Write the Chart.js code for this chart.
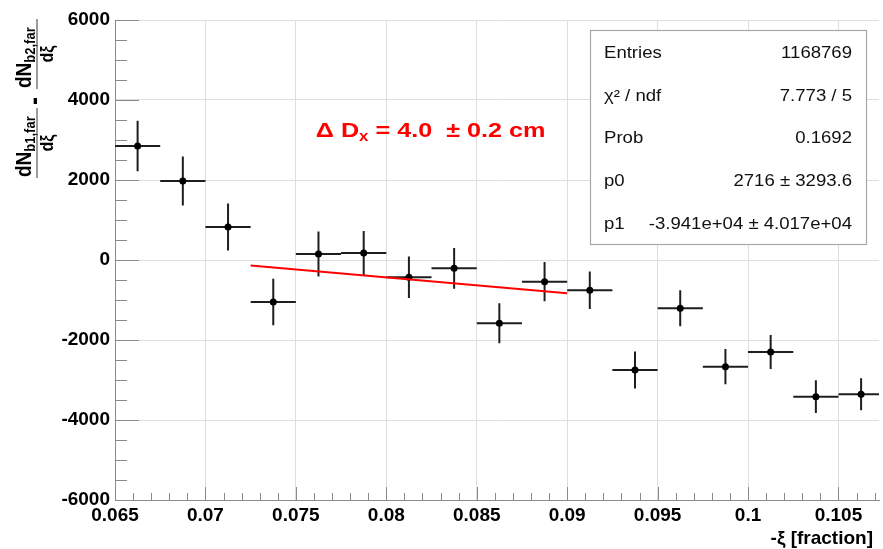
<!DOCTYPE html>
<html>
<head>
<meta charset="utf-8">
<script src="https://cdn.jsdelivr.net/npm/chart.js@4.4.1/dist/chart.umd.min.js"></script>
<style>
  html, body { margin: 0; padding: 0; background: #fff; }
</style>
</head>
<body>
<canvas id="chart" width="883" height="549"></canvas>
<script>
// histogram bins of -xi (bin width 0.0025)
const binCenters = [0.06625, 0.06875, 0.07125, 0.07375, 0.07625, 0.07875, 0.08125, 0.08375, 0.08625,
                    0.08875, 0.09125, 0.09375, 0.09625, 0.09875, 0.10125, 0.10375, 0.10625];
const binHalfWidth = 0.00125;
const diffValues = [2850, 1975, 825, -1050, 150, 175, -433, -208, -1583,
                    -542, -758, -2750, -1208, -2667, -2300, -3417, -3358];
const diffErrors = [630, 610, 590, 580, 560, 550, 520, 510, 500,
                    490, 470, 460, 450, 440, 425, 410, 400];

// linear fit, end points
const fitX = [0.0725, 0.09];
const fitY = [-140, -830];

const xTickValues = [0.065, 0.07, 0.075, 0.08, 0.085, 0.09, 0.095, 0.1, 0.105];
const xTickLabels = ['0.065', '0.07', '0.075', '0.08', '0.085', '0.09', '0.095', '0.1', '0.105'];
const yTickValues = [-6000, -4000, -2000, 0, 2000, 4000, 6000];
const yTickLabels = ['-6000', '-4000', '-2000', '0', '2000', '4000', '6000'];

const statsNames = ['Entries', 'χ² / ndf', 'Prob', 'p0', 'p1'];
const statsValues = ['1168769', '7.773 / 5', '0.1692', '2716 ± 3293.6', '-3.941e+04 ± 4.017e+04'];

const FONT = "'Liberation Sans', Arial, Helvetica, sans-serif";

// error bars, ROOT-like inner ticks, titles and stats box
const rootPlugin = {
  id: 'rootExtras',
  beforeDatasetsDraw(chart) {
    const ctx = chart.ctx;
    const xs = chart.scales.x, ys = chart.scales.y;
    const area = chart.chartArea;

    // tick marks pointing into the frame
    ctx.save();
    ctx.strokeStyle = '#8a8a8a';
    ctx.lineWidth = 1;
    ctx.beginPath();
    for (let k = 0; k * 0.001 + 0.065 <= xs.max + 1e-9; k++) {
      const px = Math.round(xs.getPixelForValue(0.065 + k * 0.001)) + 0.5;
      const len = (k % 5 === 0) ? 13 : 7;
      ctx.moveTo(px, area.bottom);
      ctx.lineTo(px, area.bottom - len);
    }
    for (let v = -6000; v <= 6000; v += 500) {
      const py = Math.round(ys.getPixelForValue(v)) + 0.5;
      const len = (v % 2000 === 0) ? 24 : 12;
      ctx.moveTo(area.left, py);
      ctx.lineTo(area.left + len, py);
    }
    ctx.stroke();

    // error bars
    ctx.strokeStyle = '#1e1e1e';
    ctx.lineWidth = 2;
    ctx.beginPath();
    for (let i = 0; i < binCenters.length; i++) {
      const px = xs.getPixelForValue(binCenters[i]);
      const py = ys.getPixelForValue(diffValues[i]);
      ctx.moveTo(xs.getPixelForValue(binCenters[i] - binHalfWidth), py);
      ctx.lineTo(Math.min(xs.getPixelForValue(binCenters[i] + binHalfWidth), area.right), py);
      ctx.moveTo(px, ys.getPixelForValue(diffValues[i] + diffErrors[i]));
      ctx.lineTo(px, ys.getPixelForValue(diffValues[i] - diffErrors[i]));
    }
    ctx.stroke();
    ctx.restore();
  },
  afterDraw(chart) {
    const ctx = chart.ctx;
    const xs = chart.scales.x, ys = chart.scales.y;
    const area = chart.chartArea;

    // red label
    ctx.save();
    ctx.translate(xs.getPixelForValue(0.0761), ys.getPixelForValue(3075));
    ctx.scale(1.2, 1);
    ctx.fillStyle = '#ff0000';
    ctx.textBaseline = 'alphabetic';
    ctx.font = 'bold 21px ' + FONT;
    let x = 0;
    ctx.fillText('Δ D', x, 0);
    x += ctx.measureText('Δ D').width;
    ctx.font = 'bold 14px ' + FONT;
    ctx.fillText('x', x, 4);
    x += ctx.measureText('x').width;
    ctx.font = 'bold 21px ' + FONT;
    ctx.fillText(' = 4.0  ± 0.2 cm', x, 0);
    ctx.restore();

    // stats box
    const bx = area.right - 289, by = area.top + 10, bw = 276, bh = 214;
    ctx.save();
    ctx.fillStyle = '#fff';
    ctx.fillRect(bx, by, bw, bh);
    ctx.strokeStyle = '#a8a8a8';
    ctx.lineWidth = 1.2;
    ctx.strokeRect(bx + 0.5, by + 0.5, bw, bh);
    ctx.translate(bx, by);
    const s = 1.16;
    ctx.scale(s, 1);
    ctx.fillStyle = '#111';
    ctx.font = '16px ' + FONT;
    for (let i = 0; i < statsNames.length; i++) {
      const yy = 28 + i * 42.7;
      ctx.textAlign = 'left';
      ctx.fillText(statsNames[i], 14 / s, yy);
      ctx.textAlign = 'right';
      ctx.fillText(statsValues[i], (bw - 14) / s, yy);
    }
    ctx.restore();

    // x axis title
    ctx.save();
    ctx.fillStyle = '#000';
    ctx.font = 'bold 19px ' + FONT;
    ctx.textAlign = 'right';
    ctx.fillText('-ξ [fraction]', area.right - 6, 544);
    ctx.restore();

    // y axis title: two fractions, rotated
    ctx.save();
    ctx.translate(37, 178);
    ctx.rotate(-Math.PI / 2);
    ctx.scale(1, 1.12);
    ctx.fillStyle = '#000';
    const frac = (u0, len, sub) => {
      ctx.strokeStyle = '#808080';
      ctx.lineWidth = 1.4;
      ctx.beginPath();
      ctx.moveTo(u0, 0);
      ctx.lineTo(u0 + len, 0);
      ctx.stroke();
      ctx.textAlign = 'left';
      ctx.font = 'bold 19px ' + FONT;
      ctx.fillText('dN', u0 + 1, -5);
      const w = ctx.measureText('dN').width;
      ctx.font = 'bold 13px ' + FONT;
      ctx.fillText(sub, u0 + 1 + w, -2);
      ctx.textAlign = 'center';
      ctx.font = 'bold 16px ' + FONT;
      ctx.fillText('dξ', u0 + len / 2, 14);
    };
    frac(0, 70, 'b1,far');
    ctx.fillRect(74, -3, 6, 3);
    frac(89, 70, 'b2,far');
    ctx.restore();
  }
};

const ctx = document.getElementById('chart').getContext('2d');
const chart = new Chart(ctx, {
  type: 'scatter',
  data: {
    datasets: [
      {
        label: 'data',
        data: binCenters.map((b, i) => ({ x: b, y: diffValues[i] })),
        pointRadius: 3.5,
        pointBackgroundColor: '#000',
        pointBorderColor: '#000',
        pointBorderWidth: 0,
        showLine: false,
        order: 2
      },
      {
        label: 'fit',
        type: 'line',
        data: fitX.map((f, i) => ({ x: f, y: fitY[i] })),
        borderColor: '#ff0000',
        borderWidth: 2,
        pointRadius: 0,
        fill: false,
        order: 1
      }
    ]
  },
  options: {
    responsive: false,
    animation: false,
    devicePixelRatio: 1,
    layout: { padding: { top: 20, right: 0, left: 0, bottom: 0 } },
    plugins: { legend: { display: false }, tooltip: { enabled: false } },
    scales: {
      x: {
        type: 'linear',
        min: 0.065,
        max: 0.10724,
        afterBuildTicks: (scale) => { scale.ticks = xTickValues.map(v => ({ value: v })); },
        afterFit: (scale) => { scale.height = 49; },
        ticks: {
          callback: (v, i) => xTickLabels[i],
          color: '#000',
          font: { family: FONT, size: 19, weight: 'bold' },
          padding: 4,
          maxRotation: 0,
          autoSkip: false
        },
        grid: { color: '#dedede', lineWidth: 1, drawTicks: false },
        border: { color: '#8a8a8a', width: 1 }
      },
      y: {
        type: 'linear',
        min: -6000,
        max: 6000,
        afterBuildTicks: (scale) => { scale.ticks = yTickValues.map(v => ({ value: v })); },
        afterFit: (scale) => { scale.width = 115; },
        ticks: {
          callback: (v, i) => yTickLabels[i],
          color: '#000',
          font: { family: FONT, size: 19, weight: 'bold' },
          padding: 5
        },
        grid: { color: '#dedede', lineWidth: 1, drawTicks: false },
        border: { color: '#8a8a8a', width: 1 }
      }
    }
  },
  plugins: [rootPlugin]
});
</script>
</body>
</html>
